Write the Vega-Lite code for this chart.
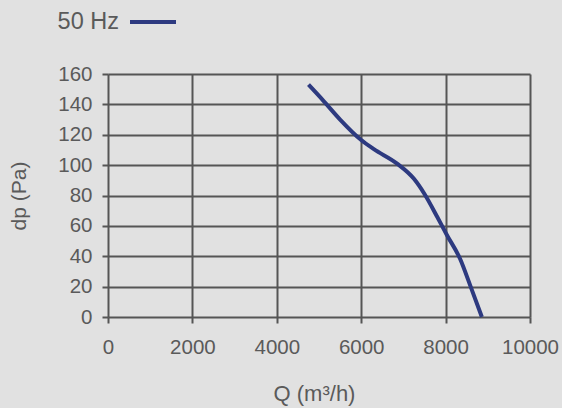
{
  "$schema": "https://vega.github.io/schema/vega-lite/v6.json",
  "width": 422,
  "height": 243,
  "autosize": {"type": "none"},
  "padding": {"left": 108, "top": 74, "right": 32, "bottom": 91},
  "background": "#e1e1e1",
  "config": {
    "view": {"stroke": null},
    "font": "Liberation Sans",
    "axis": {
      "labelFont": "Liberation Sans",
      "titleFont": "Liberation Sans",
      "labelColor": "#5a5a5a",
      "titleColor": "#5a5a5a",
      "labelFontSize": 20.5,
      "titleFontSize": 21,
      "titleFontWeight": "normal",
      "grid": true,
      "gridColor": "#555555",
      "gridWidth": 2,
      "gridOpacity": 1,
      "domain": false,
      "tickColor": "#555555",
      "tickWidth": 2,
      "tickSize": 6
    }
  },
  "data": {
    "values": [
      {"Q": 4750, "dp": 153, "series": "50 Hz"},
      {"Q": 5100, "dp": 142.5, "series": "50 Hz"},
      {"Q": 5500, "dp": 130, "series": "50 Hz"},
      {"Q": 6000, "dp": 116.5, "series": "50 Hz"},
      {"Q": 6300, "dp": 110.5, "series": "50 Hz"},
      {"Q": 6850, "dp": 101, "series": "50 Hz"},
      {"Q": 7250, "dp": 91, "series": "50 Hz"},
      {"Q": 7500, "dp": 81, "series": "50 Hz"},
      {"Q": 7800, "dp": 66, "series": "50 Hz"},
      {"Q": 8030, "dp": 54, "series": "50 Hz"},
      {"Q": 8340, "dp": 38.5, "series": "50 Hz"},
      {"Q": 8600, "dp": 19.5, "series": "50 Hz"},
      {"Q": 8860, "dp": 0, "series": "50 Hz"}
    ]
  },
  "mark": {"type": "line", "strokeWidth": 4, "interpolate": "monotone", "strokeCap": "butt"},
  "encoding": {
    "x": {
      "field": "Q",
      "type": "quantitative",
      "scale": {"domain": [0, 10000], "nice": false, "zero": true},
      "axis": {"values": [0, 2000, 4000, 6000, 8000, 10000], "title": "Q (m³/h)", "labelPadding": 14, "titlePadding": 26, "titleFontSize": 22, "titleX": 206, "titleAlign": "center", "format": "d", "labelFlush": false}
    },
    "y": {
      "field": "dp",
      "type": "quantitative",
      "scale": {"domain": [0, 160], "nice": false},
      "axis": {"values": [0, 20, 40, 60, 80, 100, 120, 140, 160], "title": "dp (Pa)", "labelPadding": 10, "titlePadding": 28, "labelFlush": false}
    },
    "color": {
      "field": "series",
      "type": "nominal",
      "scale": {"range": ["#2d3a80"]},
      "legend": {
        "orient": "none",
        "legendX": 20,
        "legendY": -77,
        "title": null,
        "padding": 0,
        "symbolType": "stroke",
        "symbolSize": 2116,
        "symbolStrokeWidth": 4,
        "labelAlign": "right",
        "labelOffset": -59,
        "labelFontSize": 23.5,
        "labelColor": "#5a5a5a",
        "labelFont": "Liberation Sans"
      }
    }
  }
}
